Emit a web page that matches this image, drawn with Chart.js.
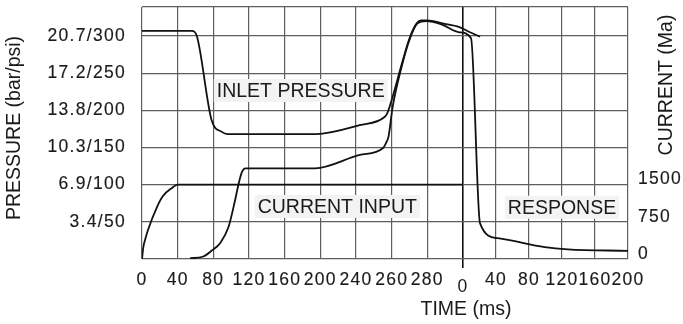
<!DOCTYPE html>
<html>
<head>
<meta charset="utf-8">
<script src="https://cdn.jsdelivr.net/npm/chart.js@4.4.0/dist/chart.umd.min.js"></script>
<style>
  html, body { margin: 0; padding: 0; background: #fff; }
  #wrap { width: 683px; height: 324px; }
</style>
</head>
<body>
<div id="wrap"><canvas id="chart" width="683" height="324"></canvas></div>
<script>
// tick labels
const leftTimeLabels = ['0', '40', '80', '120', '160', '200', '240', '260', '280'];
const rightTimeLabels = ['40', '80', '120', '160', '200'];
const pressurePsi = [50, 100, 150, 200, 250, 300];
const pressureBar = ['3.4', '6.9', '10.3', '13.8', '17.2', '20.7'];
const currentTicks = [0, 750, 1500];

// series: [time (ms), value]; left panel runs on the 40 ms grid up to the divider
const inletLeft = [[0, 307], [56, 307], [61.5, 300], [78, 187], [89.5, 171], [96, 168], [195, 168],
  [244, 180], [272, 191], [275, 196], [280, 214], [291, 261], [300, 297], [308, 317], [313, 321],
  [320, 321], [337, 317], [356, 312]];
const inletRight = [[8.5, 305], [20.6, 299]];

const outletLeft = [[54, 1], [68, 3], [78, 11], [88, 22], [97, 43], [104, 77], [108.5, 102], [112, 117],
  [116, 122], [194, 122], [244, 140], [270, 149], [274, 157], [276.5, 165], [281, 204], [291, 258],
  [300, 295], [309, 317], [319, 320], [337, 315], [356, 305]];
const outletRight = [[9.7, 297], [20.6, 48], [42, 28], [99, 16], [127, 13], [200, 11]];

const currentInput = [[0, 0], [1.5, 240], [3.4, 383], [6.7, 585], [16.8, 1049], [23.5, 1271], [33.6, 1433],
  [40, 1500], [360, 1500]];

// axis set-up
const DIVIDER = 360;          // where the response panel starts
const RIGHT_SCALE = 0.925;    // response panel grid is a bit narrower
const PSI_MAX = 339;
const MA_PER_PSI = 15;        // 1500 mA lines up with 100 psi

const FONT = "'Liberation Sans', Arial, sans-serif";
const TICK_SIZE = 17.5;
const TICK_SPACING = '1.3px';
const GRID = '#5e5e5e';
const INK = '#1a1a1a';

const xTicks = [];
leftTimeLabels.forEach((l, i) => xTicks.push({ value: i * 40, label: l }));
xTicks.push({ value: DIVIDER, label: '' });
rightTimeLabels.forEach((l, i) => xTicks.push({ value: DIVIDER + (i + 1) * 40 * RIGHT_SCALE, label: l }));

function toXY(points, offset, scale) {
  return points.map(([t, v]) => ({ x: offset + t * scale, y: v }));
}

const isDivider = (c) => c.tick && Math.abs(c.tick.value - DIVIDER) < 0.01;

// fixed box sizes so the plot sits where the original does
function fixBox(size) {
  return s => {
    if (s.isHorizontal()) s.height = size; else s.width = size;
    s.paddingTop = 0; s.paddingBottom = 0; s.paddingLeft = 0; s.paddingRight = 0;
  };
}

const tickFont = {
  color: INK,
  textStrokeColor: INK,
  textStrokeWidth: 0.15,
  font: { family: FONT, size: TICK_SIZE }
};

const notes = [
  { text: 'INLET PRESSURE', x: 178, y: 226 },
  { text: 'CURRENT INPUT', x: 219, y: 70 },
  { text: 'RESPONSE', x: DIVIDER + 120 * RIGHT_SCALE, y: 69 }
];

const extras = {
  id: 'extras',
  beforeDraw(chart) {
    chart.ctx.letterSpacing = TICK_SPACING;
  },
  beforeDatasetsDraw(chart) {
    const { ctx, scales: { x, y } } = chart;
    ctx.save();
    ctx.letterSpacing = '0px';
    ctx.font = '19.5px ' + FONT;
    ctx.textAlign = 'center';
    ctx.textBaseline = 'middle';
    notes.forEach(n => {
      const px = x.getPixelForValue(n.x);
      const py = y.getPixelForValue(n.y);
      const w = ctx.measureText(n.text).width;
      ctx.fillStyle = '#f3f3f3';
      ctx.fillRect(px - w / 2 - 3, py - 12, w + 6, 23);
      ctx.fillStyle = INK;
      ctx.fillText(n.text, px, py + 1);
    });
    ctx.restore();
  },
  afterDraw(chart) {
    const { ctx, scales: { x } } = chart;
    const dx = x.getPixelForValue(DIVIDER);
    ctx.save();
    ctx.letterSpacing = '0px';
    ctx.fillStyle = INK;
    ctx.textAlign = 'center';
    ctx.textBaseline = 'middle';
    ctx.font = '19.5px ' + FONT;
    ctx.fillText('TIME (ms)', dx + 3, 310);

    ctx.save();
    ctx.translate(15, 128);
    ctx.rotate(-Math.PI / 2);
    ctx.fillText('PRESSURE (bar/psi)', 0, 0);
    ctx.restore();

    ctx.save();
    ctx.translate(667, 85);
    ctx.rotate(-Math.PI / 2);
    ctx.fillText('CURRENT (Ma)', 0, 0);
    ctx.restore();

    ctx.letterSpacing = TICK_SPACING;
    ctx.font = TICK_SIZE + 'px ' + FONT;
    ctx.fillText('0', dx, 287);
    ctx.restore();
  }
};

const lineStyle = {
  borderColor: '#111',
  borderWidth: 1.8,
  pointRadius: 0,
  fill: false,
  cubicInterpolationMode: 'monotone'
};

new Chart(document.getElementById('chart').getContext('2d'), {
  type: 'line',
  data: {
    datasets: [
      { ...lineStyle, label: 'Inlet pressure', yAxisID: 'y',
        data: [...toXY(inletLeft, 0, 1), ...toXY(inletRight, DIVIDER, RIGHT_SCALE)] },
      { ...lineStyle, label: 'Pressure response', yAxisID: 'y',
        data: [...toXY(outletLeft, 0, 1), ...toXY(outletRight, DIVIDER, RIGHT_SCALE)] },
      { ...lineStyle, label: 'Current input', yAxisID: 'yR',
        data: toXY(currentInput, 0, 1) }
    ]
  },
  options: {
    responsive: false,
    animation: false,
    devicePixelRatio: 1,
    layout: { padding: { top: 7, left: 0, right: 0, bottom: 0 } },
    plugins: { legend: { display: false }, tooltip: { enabled: false } },
    scales: {
      x: {
        type: 'linear',
        min: 0,
        max: DIVIDER + 200 * RIGHT_SCALE,
        afterBuildTicks: s => { s.ticks = xTicks.map(t => ({ value: t.value })); },
        afterFit: fixBox(65),
        border: { display: false },
        grid: {
          color: c => isDivider(c) ? '#111' : GRID,
          lineWidth: c => isDivider(c) ? 1.6 : 1.2,
          tickLength: 9,
          tickColor: c => isDivider(c) ? '#111' : 'rgba(0,0,0,0)'
        },
        ticks: {
          ...tickFont,
          autoSkip: false,
          maxRotation: 0,
          padding: 2,
          callback: (v, i) => xTicks[i] ? xTicks[i].label : ''
        }
      },
      y: {
        type: 'linear',
        position: 'left',
        min: 0,
        max: PSI_MAX,
        afterBuildTicks: s => { s.ticks = [0, ...pressurePsi, PSI_MAX].map(v => ({ value: v })); },
        afterFit: fixBox(142),
        border: { display: false },
        grid: { color: GRID, lineWidth: 1.2, drawTicks: false },
        ticks: {
          ...tickFont,
          padding: 16,
          callback: v => {
            const i = pressurePsi.indexOf(v);
            return i < 0 ? '' : pressureBar[i] + '/' + pressurePsi[i];
          }
        }
      },
      yR: {
        type: 'linear',
        position: 'right',
        min: 0,
        max: PSI_MAX * MA_PER_PSI,
        afterBuildTicks: s => { s.ticks = currentTicks.map(v => ({ value: v })); },
        afterFit: fixBox(55),
        border: { display: false },
        grid: { display: false, drawTicks: false },
        ticks: {
          ...tickFont,
          padding: 10,
          labelOffset: -5,
          callback: v => String(v)
        }
      }
    }
  },
  plugins: [extras]
});
</script>
</body>
</html>
